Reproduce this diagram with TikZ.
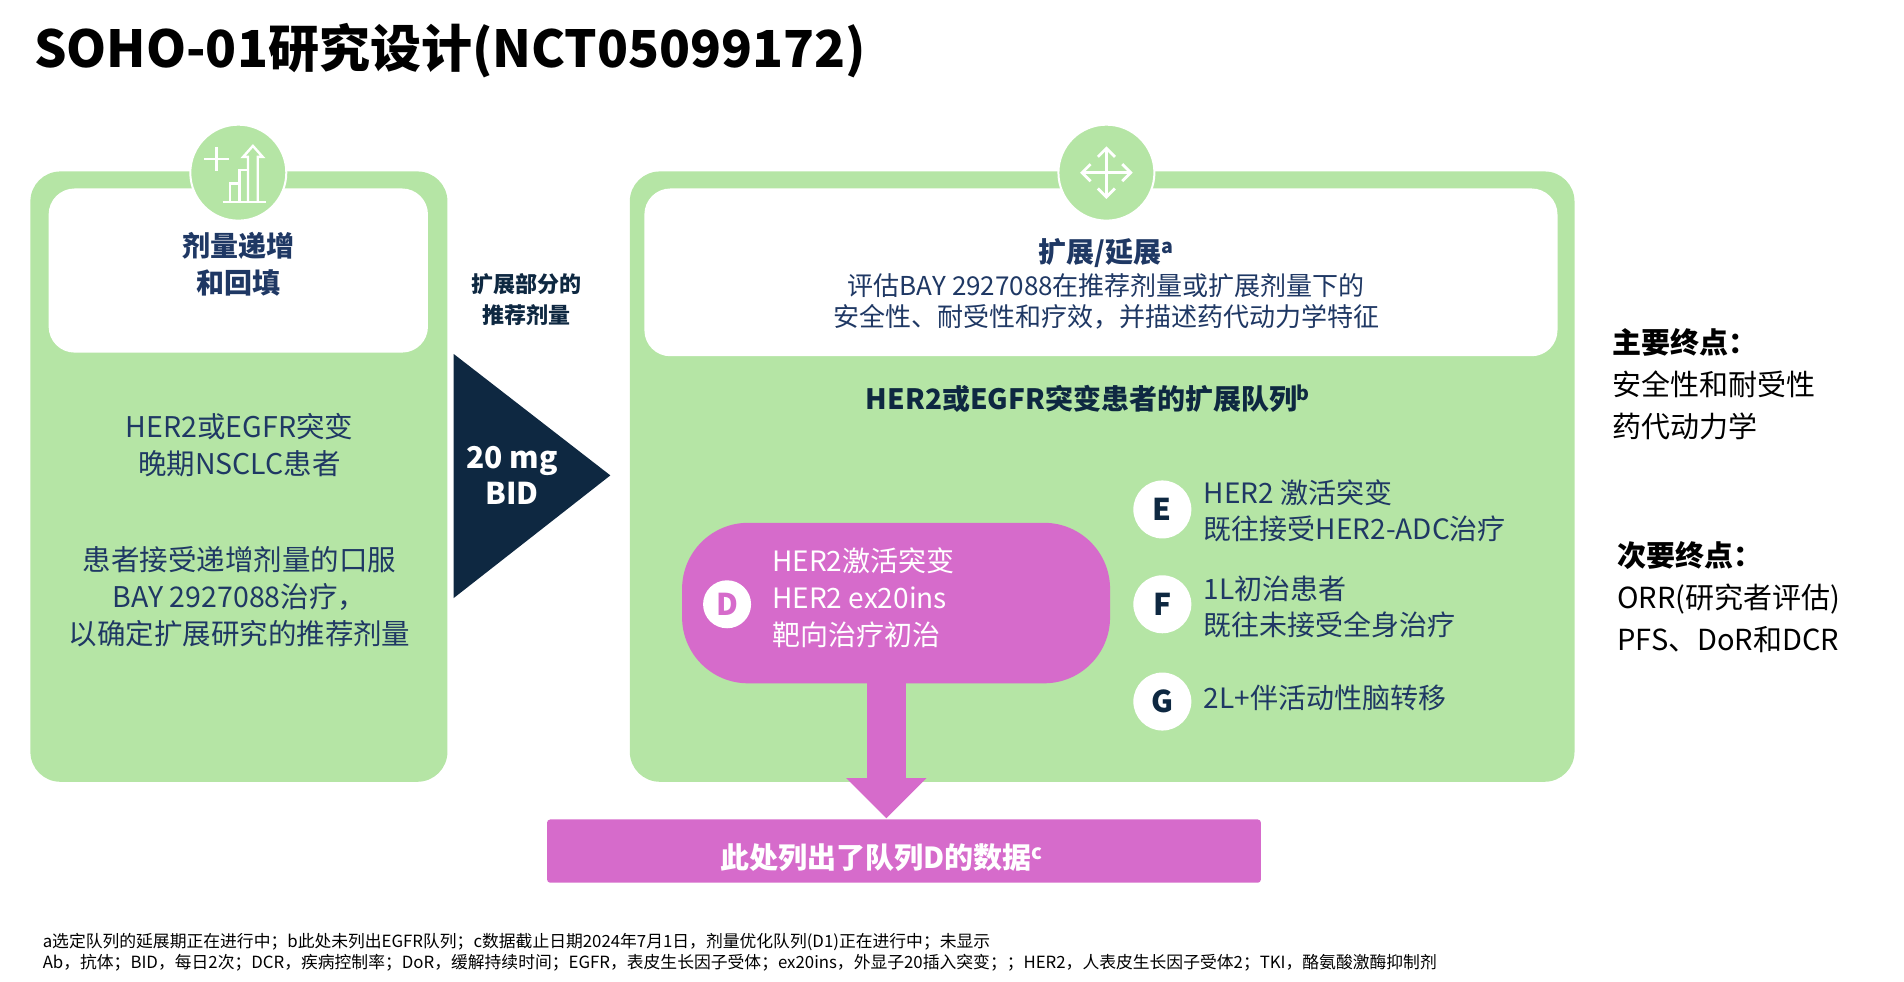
\documentclass[tikz,border=0pt]{standalone}
\usepackage{fontspec}
\setmainfont{Noto Sans CJK SC}
\usetikzlibrary{arrows.meta}
\definecolor{lg}{HTML}{B5E5A5}
\definecolor{navy}{HTML}{1F3864}
\definecolor{dk}{HTML}{0E2841}
\definecolor{mag}{HTML}{D66BCB}
\tikzset{
 txt/.style={text=navy,font=\fontsize{28.5}{37}\selectfont,align=center,inner sep=0},
 bt/.style={text=navy,font=\bfseries\fontsize{28}{37}\selectfont,align=center,inner sep=0},
 lt/.style={text=navy,font=\fontsize{28}{36}\selectfont,align=left,anchor=west,inner sep=0},
 let/.style={circle,fill=white,minimum size=58,inner sep=0,text=dk,font=\bfseries\fontsize{30}{30}\selectfont},
 ico/.style={circle,fill=lg,draw=white,line width=2,minimum size=96},
 ep/.style={anchor=west,inner sep=0,font=\fontsize{29}{42}\selectfont,align=left},
}
\begin{document}
\begin{tikzpicture}[x=1.216pt,y=-1.216pt]
\useasboundingbox (0,0) rectangle (1566,807.6);
\node[anchor=west,inner sep=0,font=\bfseries\fontsize{51}{51}\selectfont] (title) at (28,42) {SOHO-01研究设计(NCT05099172)};
% left box
\fill[lg,rounded corners=30] (25,141) rectangle (368,643);
\fill[white,rounded corners=26] (40,155) rectangle (352,290);
\node[ico] (i1) at (196,142) {};
\begin{scope}[white,line width=2.4]
 \draw (168,131)--(188,131) (178,121)--(178,141);
 \draw (183,166)--(219,166);
 \draw (189,166)--(189,151)--(197,151)--(197,166);
 \draw (197,166)--(197,140)--(204,140)--(204,166);
 \draw (204,166)--(204,129)--(200,129)--(208,120)--(216,129)--(212,129)--(212,166);
\end{scope}
\node[bt] (t1) at (196,217) {剂量递增\\和回填};
\node[txt] (t2) at (197,366) {HER2或EGFR突变\\晚期NSCLC患者};
\node[txt] (t3) at (197,491) {患者接受递增剂量的口服\\BAY 2927088治疗，\\以确定扩展研究的推荐剂量};
\node[text=dk,font=\bfseries\fontsize{22}{31}\selectfont,align=center,inner sep=0] (t4) at (433,246) {扩展部分的\\推荐剂量};
\fill[dk] (373,291)--(373,492)--(502,391)--cycle;
\node[text=white,font=\bfseries\fontsize{30}{37}\selectfont,align=center,inner sep=0] (dose) at (421,391) {20 mg\\BID};
% right box
\fill[lg,rounded corners=30] (518,141) rectangle (1295,643);
\fill[white,rounded corners=26] (530,155) rectangle (1281,293);
\node[ico] (i2) at (910,142) {};
\begin{scope}[white,line width=2.8]
 \draw (910,122)--(910,162) (890,142)--(930,142);
 \draw (903,129)--(910,122)--(917,129) (903,155)--(910,162)--(917,155);
 \draw (897,135)--(890,142)--(897,149) (923,135)--(930,142)--(923,149);
\end{scope}
\node[bt] (t5) at (910,208) {扩展/延展\textsuperscript{a}};
\node[txt,font=\fontsize{26}{31}\selectfont] (t6) at (910,248) {评估BAY 2927088在推荐剂量或扩展剂量下的\\安全性、耐受性和疗效，并描述药代动力学特征};
\node[bt,text=dk] (t7) at (895,328) {HER2或EGFR突变患者的扩展队列\textsuperscript{b}};
% D pill + arrow
\fill[mag] (713,555) rectangle (745,640);
\fill[mag] (696,640)--(762,640)--(729,673)--cycle;
\fill[mag,rounded corners=66] (561,430) rectangle (913,562);
\node[let,text=mag,minimum size=48] (D) at (598,497) {D};
\node[lt,text=white,font=\fontsize{28}{37}\selectfont] (td) at (635,492) {HER2激活突变\\HER2 ex20ins\\靶向治疗初治};
\node[let] (E) at (956,419) {E};
\node[let] (F) at (956,497) {F};
\node[let] (G) at (956,577) {G};
\node[lt] (te) at (990,420) {HER2 激活突变\\既往接受HER2-ADC治疗};
\node[lt] (tf) at (990,499) {1L初治患者\\既往未接受全身治疗};
\node[lt] (tg) at (990,574) {2L+伴活动性脑转移};
\fill[mag,rounded corners=3] (450,674) rectangle (1037,726);
\node[text=white,font=\bfseries\fontsize{29}{29}\selectfont,inner sep=0] (bar) at (725,705) {此处列出了队列D的数据\textsuperscript{c}};
% endpoints
\node[ep] (p1) at (1326,316) {\textbf{主要终点：}\\安全性和耐受性\\药代动力学};
\node[ep] (p2) at (1330,491) {\textbf{次要终点：}\\ORR(研究者评估)\\PFS、DoR和DCR};
% footnote
\node[anchor=west,inner sep=0,align=left,font=\fontsize{16.8}{21}\selectfont] (fn) at (35,783) {a选定队列的延展期正在进行中；b此处未列出EGFR队列；c数据截止日期2024年7月1日，剂量优化队列(D1)正在进行中；未显示\\Ab，抗体；BID，每日2次；DCR，疾病控制率；DoR，缓解持续时间；EGFR，表皮生长因子受体；ex20ins，外显子20插入突变；；HER2，人表皮生长因子受体2；TKI，酪氨酸激酶抑制剂};
\end{tikzpicture}
\end{document}
